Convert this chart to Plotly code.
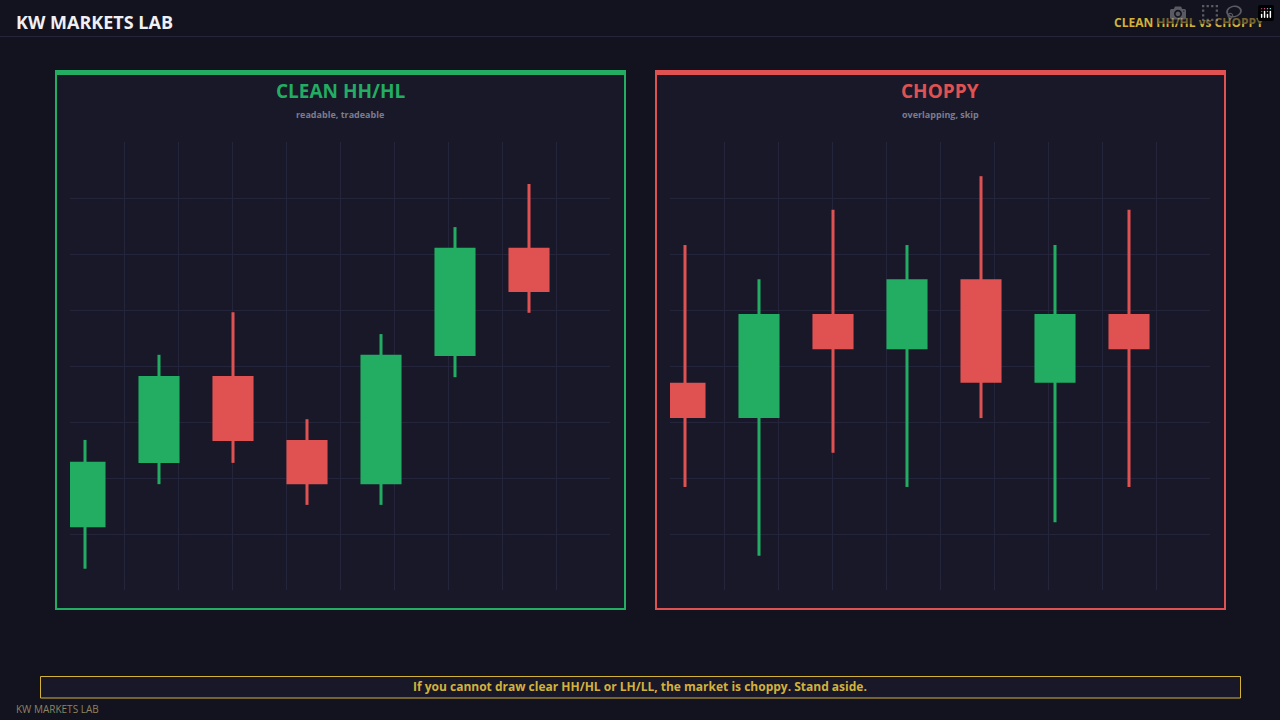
import plotly.graph_objects as go

W, H = 1280, 720
GREEN = "#22ad63"
RED = "#e05252"
GOLD = "#d4b23a"

# Data (price units)
clean_open  = [1.12, 2.27, 3.82, 2.68, 1.89, 4.18, 6.11]
clean_close = [2.29, 3.82, 2.66, 1.89, 4.20, 6.11, 5.32]
clean_high  = [2.68, 4.20, 4.96, 3.05, 4.57, 6.48, 7.25]
clean_low   = [0.38, 1.89, 2.27, 1.52, 1.52, 3.80, 4.95]

chop_open  = [3.70, 3.07, 4.93, 4.30, 5.55, 3.70, 4.93]
chop_close = [3.07, 4.93, 4.30, 5.55, 3.70, 4.93, 4.30]
chop_high  = [6.16, 5.55, 6.79, 6.16, 7.39, 6.16, 6.79]
chop_low   = [1.84, 0.61, 2.45, 1.84, 3.07, 1.21, 1.84]

def px(x): return x / W
def py(y): return 1 - y / H

fig = go.Figure()
X0 = -15 / 74
X1 = X0 + 540 / 74
gridx = [X0 + k * 54 / 74 for k in range(1, 10)]

def add_candles(o, c, h, l, xa, ya):
    idx = list(range(len(o)))
    for i in idx:
        col = GREEN if c[i] >= o[i] else RED
        fig.add_trace(go.Scatter(x=[i, i], y=[l[i], h[i]], mode="lines",
                                 line=dict(color=col, width=3), xaxis=xa, yaxis=ya,
                                 showlegend=False, hoverinfo="skip"))
    cols = [GREEN if c[i] >= o[i] else RED for i in idx]
    fig.add_trace(go.Bar(x=idx, y=[abs(c[i] - o[i]) for i in idx],
                         base=[min(c[i], o[i]) for i in idx], width=0.555,
                         marker=dict(color=cols, line=dict(width=0)),
                         xaxis=xa, yaxis=ya, showlegend=False))

add_candles(clean_open, clean_close, clean_high, clean_low, "x", "y")
add_candles(chop_open, chop_close, chop_high, chop_low, "x2", "y2")

axcommon = dict(showgrid=True, gridcolor="#24243a", gridwidth=1, zeroline=False,
                showticklabels=False, showline=False, fixedrange=True)
fig.update_layout(
    width=W, height=H, margin=dict(l=0, r=0, t=0, b=0),
    paper_bgcolor="#13131f", plot_bgcolor="rgba(0,0,0,0)",
    font=dict(family="Open Sans", color="#e8e8ee"), barmode="overlay",
    xaxis=dict(domain=[px(70), px(610)], range=[X0, X1], tickvals=gridx, **axcommon),
    yaxis=dict(domain=[py(590), py(142)], range=[0, 8], tickvals=[1, 2, 3, 4, 5, 6, 7], **axcommon),
    xaxis2=dict(domain=[px(670), px(1210)], range=[X0, X1], tickvals=gridx, anchor="y2", **axcommon),
    yaxis2=dict(domain=[py(590), py(142)], range=[0, 8], tickvals=[1, 2, 3, 4, 5, 6, 7], anchor="x2", **axcommon),
)

shapes = [
    dict(type="line", xref="paper", yref="paper", x0=0, x1=1, y0=py(36.5), y1=py(36.5),
         line=dict(color="#25253a", width=1)),
]
for (x0, x1, col) in [(56, 625, GREEN), (656, 1225, RED)]:
    shapes.append(dict(type="rect", xref="paper", yref="paper", x0=px(x0), x1=px(x1),
                       y0=py(609), y1=py(72), fillcolor="#181828", line=dict(color=col, width=2),
                       layer="below"))
    shapes.append(dict(type="rect", xref="paper", yref="paper", x0=px(x0 - 1), x1=px(x1 + 1),
                       y0=py(75), y1=py(70), fillcolor=col, line=dict(width=0)))
shapes.append(dict(type="rect", xref="paper", yref="paper", x0=px(40.5), x1=px(1240.5),
                   y0=py(698), y1=py(676.5), fillcolor="#181828", line=dict(color=GOLD, width=1),
                   layer="below"))
fig.update_layout(shapes=shapes)

def ann(x, y, text, size, color, xanchor="center", bold=True):
    fig.add_annotation(xref="paper", yref="paper", x=px(x), y=py(y), text=f"<b>{text}</b>" if bold else text,
                       showarrow=False, xanchor=xanchor, yanchor="middle",
                       font=dict(size=size, color=color, family="Open Sans"))

ann(14, 22, "KW MARKETS LAB", 18, "#f0f0f4", "left")
ann(1266, 22, "CLEAN HH/HL vs CHOPPY", 12, GOLD, "right")
ann(340, 91, "CLEAN HH/HL", 19, GREEN)
ann(340, 115, "readable, tradeable", 9, "#7c7c90")
ann(940, 91, "CHOPPY", 19, RED)
ann(940, 115, "overlapping, skip", 9, "#7c7c90")
ann(640, 686, "If you cannot draw clear HH/HL or LH/LL, the market is choppy. Stand aside.", 12, GOLD)
ann(14, 709, "KW MARKETS LAB", 10, "#8c8462", "left", bold=False)

fig.write_html("out.html")
with open("out.html", encoding="utf-8") as f:
    html = f.read()
html = html.replace("<head>", "<head><style>html,body{margin:0;padding:0;overflow:hidden;background:#13131f;}</style>", 1)
with open("out.html", "w", encoding="utf-8") as f:
    f.write(html)
